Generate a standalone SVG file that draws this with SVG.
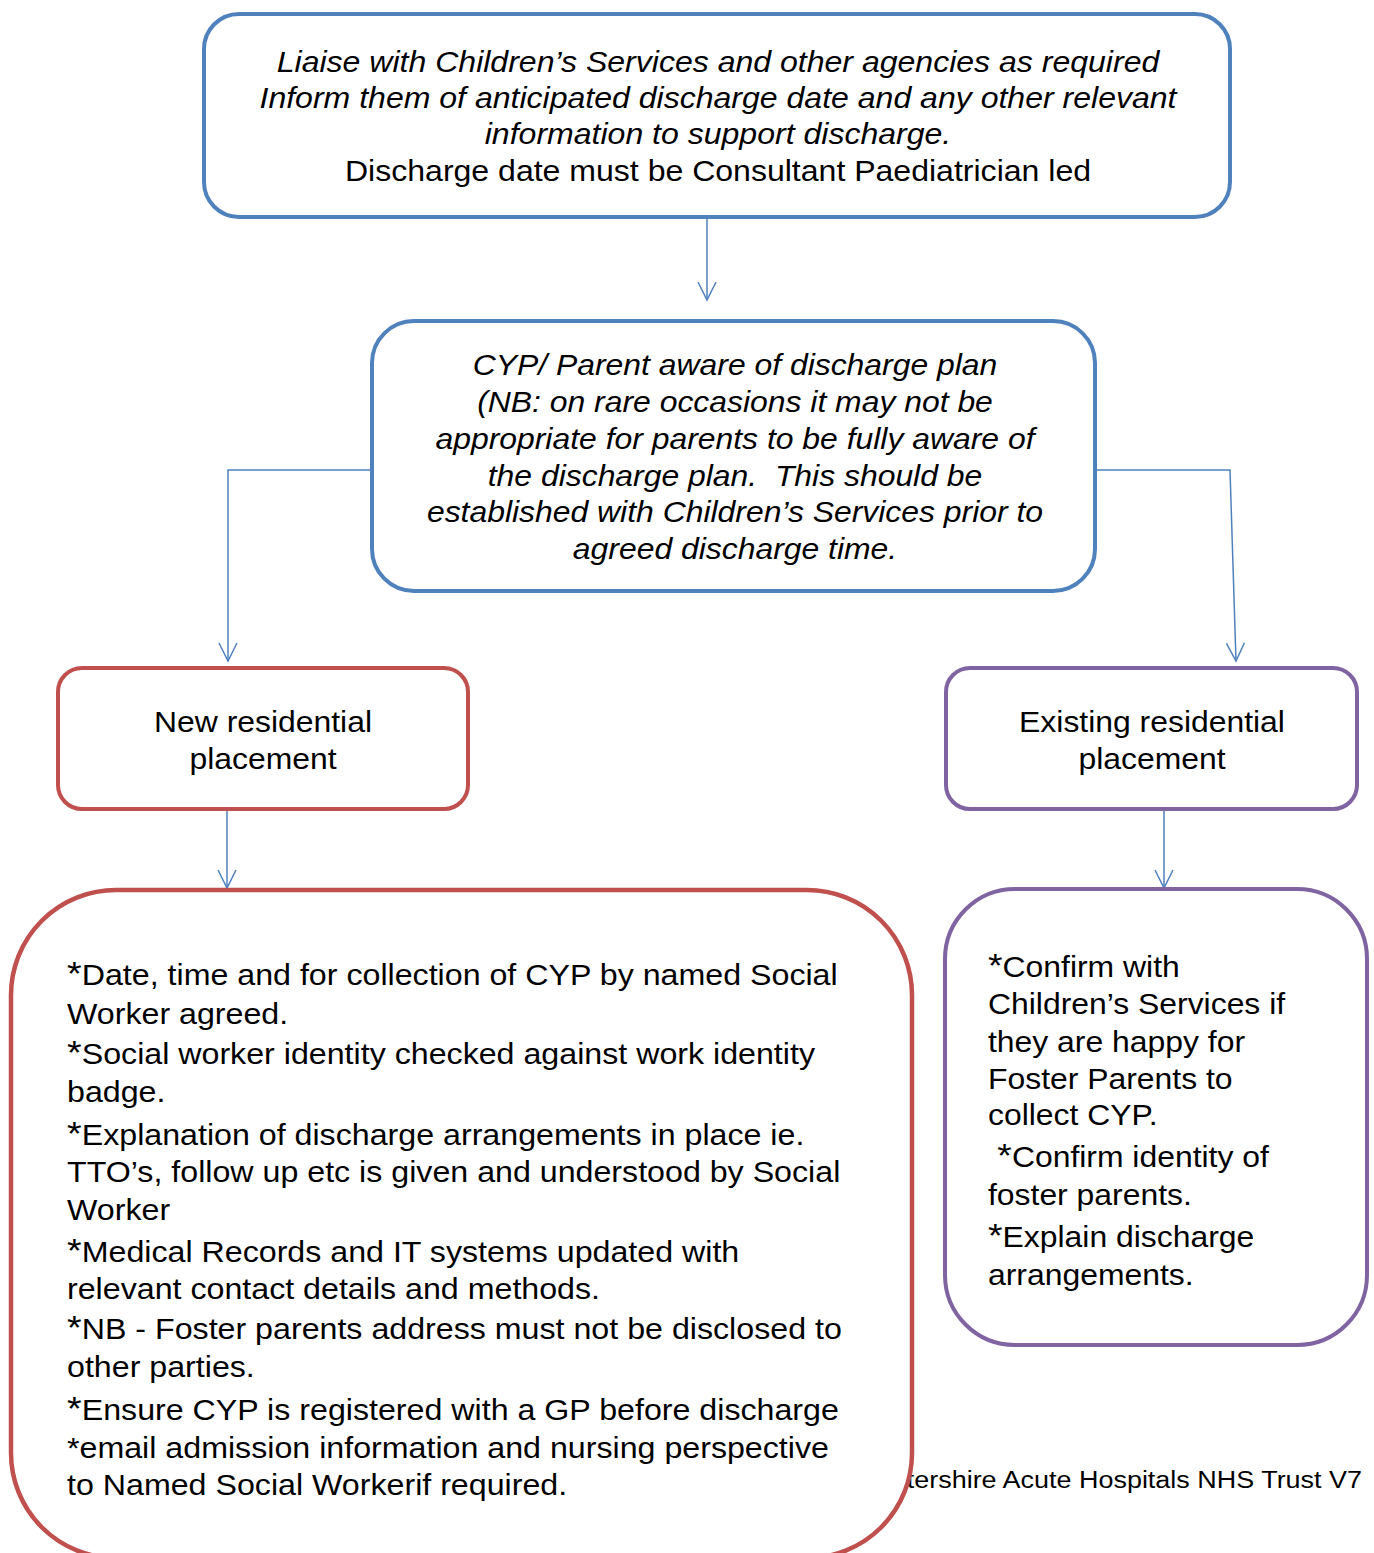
<svg xmlns="http://www.w3.org/2000/svg" width="1374" height="1553" viewBox="0 0 1374 1553">
<style>
.t{font-family:"Liberation Sans",Arial,sans-serif;font-size:29px;fill:#000}
.i{font-style:italic}
.c{text-anchor:middle}
.ast{font-size:34px}
.box{fill:#fff;stroke-width:4}
.blue{stroke:#4F81BD}
.red{stroke:#C0504D}
.purple{stroke:#8064A2}
.conn{fill:none;stroke:#4F81BD;stroke-width:1.5}
</style>
<defs>
<marker id="arr" markerUnits="userSpaceOnUse" orient="auto" refX="0" refY="0" markerWidth="20" markerHeight="20" overflow="visible">
<path d="M-18,-9 L0,0 L-18,9" fill="none" stroke="#4F81BD" stroke-width="1.5"/>
</marker>
</defs>
<rect width="1374" height="1553" fill="#fff"/>

<g id="connectors">
<path class="conn" d="M707,217 L707,300" marker-end="url(#arr)"/>
<path class="conn" d="M372,470 L228,470 L228,661" marker-end="url(#arr)"/>
<path class="conn" d="M1095,470 L1230,470 L1236,661" marker-end="url(#arr)"/>
<path class="conn" d="M227,809 L227,888" marker-end="url(#arr)"/>
<path class="conn" d="M1164,809 L1164,888" marker-end="url(#arr)"/>
</g>

<g id="node-liaise">
<rect class="box blue" x="204" y="14" width="1026" height="203" rx="35"/>
<g transform="translate(718 0) scale(1.105 1)">
<text class="t i c" x="0" y="72">Liaise with Children’s Services and other agencies as required</text>
<text class="t i c" x="0" y="108">Inform them of anticipated discharge date and any other relevant</text>
<text class="t i c" x="0" y="144">information to support discharge.</text>
<text class="t c" x="0" y="181">Discharge date must be Consultant Paediatrician led</text>
</g>
</g>

<g id="node-aware">
<rect class="box blue" x="372" y="321" width="723" height="270" rx="42"/>
<g transform="translate(735 0) scale(1.1 1)">
<text class="t i c" x="0" y="375">CYP/ Parent aware of discharge plan</text>
<text class="t i c" x="0" y="412">(NB: on rare occasions it may not be</text>
<text class="t i c" x="0" y="449">appropriate for parents to be fully aware of</text>
<text class="t i c" x="0" y="486" xml:space="preserve">the discharge plan.  This should be</text>
<text class="t i c" x="0" y="522">established with Children’s Services prior to</text>
<text class="t i c" x="0" y="559">agreed discharge time.</text>
</g>
</g>

<g id="node-new">
<rect class="box red" x="58" y="668" width="410" height="141" rx="24"/>
<g transform="translate(263 0) scale(1.1 1)">
<text class="t c" x="0" y="732">New residential</text>
<text class="t c" x="0" y="769">placement</text>
</g>
</g>

<g id="node-existing">
<rect class="box purple" x="946" y="668" width="411" height="141" rx="24"/>
<g transform="translate(1152 0) scale(1.1 1)">
<text class="t c" x="0" y="732">Existing residential</text>
<text class="t c" x="0" y="769">placement</text>
</g>
</g>

<g id="footer">
<g transform="translate(1362 0) scale(1.1 1)">
<text class="t" style="font-size:24.5px;text-anchor:end" x="0" y="1488">tershire Acute Hospitals NHS Trust V7</text>
</g>
</g>

<g id="node-new-steps">
<rect class="box red" x="11" y="890" width="901" height="668" rx="105" style="stroke-width:4.5"/>
<g transform="translate(67 0) scale(1.11 1)">
<text class="t" x="0" y="985"><tspan class="ast">*</tspan>Date, time and for collection of CYP by named Social</text>
<text class="t" x="0" y="1024">Worker agreed.</text>
<text class="t" x="0" y="1064"><tspan class="ast">*</tspan>Social worker identity checked against work identity</text>
<text class="t" x="0" y="1102">badge.</text>
<text class="t" x="0" y="1145"><tspan class="ast">*</tspan>Explanation of discharge arrangements in place ie.</text>
<text class="t" x="0" y="1182">TTO’s, follow up etc is given and understood by Social</text>
<text class="t" x="0" y="1220">Worker</text>
<text class="t" x="0" y="1262"><tspan class="ast">*</tspan>Medical Records and IT systems updated with</text>
<text class="t" x="0" y="1299">relevant contact details and methods.</text>
<text class="t" x="0" y="1339"><tspan class="ast">*</tspan>NB - Foster parents address must not be disclosed to</text>
<text class="t" x="0" y="1377">other parties.</text>
<text class="t" x="0" y="1420"><tspan class="ast">*</tspan>Ensure CYP is registered with a GP before discharge</text>
<text class="t" x="0" y="1458">*email admission information and nursing perspective</text>
<text class="t" x="0" y="1495">to Named Social Workerif required.</text>
</g>
</g>

<g id="node-existing-steps">
<rect class="box purple" x="945" y="889" width="422" height="456" rx="70"/>
<g transform="translate(988 0) scale(1.1 1)">
<text class="t" x="0" y="977"><tspan class="ast">*</tspan>Confirm with</text>
<text class="t" x="0" y="1014">Children’s Services if</text>
<text class="t" x="0" y="1052">they are happy for</text>
<text class="t" x="0" y="1089">Foster Parents to</text>
<text class="t" x="0" y="1125">collect CYP.</text>
<text class="t" x="8.5" y="1167"><tspan class="ast">*</tspan>Confirm identity of</text>
<text class="t" x="0" y="1205">foster parents.</text>
<text class="t" x="0" y="1247"><tspan class="ast">*</tspan>Explain discharge</text>
<text class="t" x="0" y="1285">arrangements.</text>
</g>
</g>
</svg>
